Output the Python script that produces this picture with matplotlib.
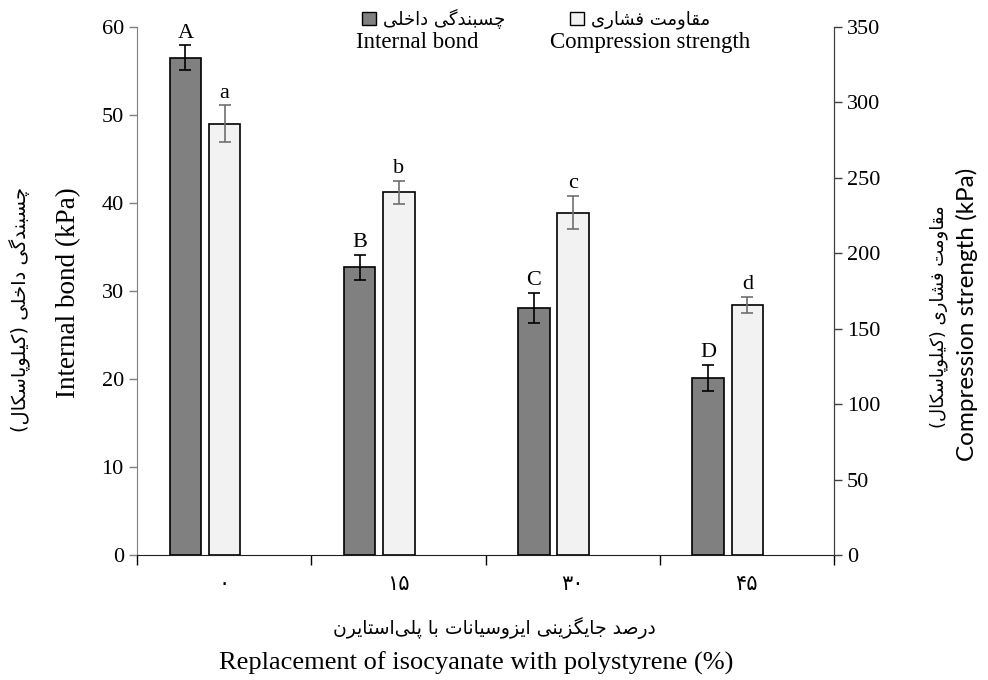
import matplotlib
matplotlib.use("Agg")
import matplotlib.pyplot as plt
from matplotlib.patches import Patch
from matplotlib.ticker import FixedLocator, NullFormatter
import numpy as np

# --- data ---
replacement = ["۰", "۱۵", "۳۰", "۴۵"]
internal_bond = [56.5, 32.7, 28.1, 20.1]          # kPa, left axis
internal_bond_err = [1.4, 1.4, 1.7, 1.5]
compression = [286.0, 240.5, 227.0, 166.0]         # kPa, right axis
compression_err = [12.0, 7.6, 11.0, 5.3]
ib_letters = ["A", "B", "C", "D"]
cs_letters = ["a", "b", "c", "d"]

# --- minimal Persian shaping (matplotlib draws glyphs in logical order, unjoined) ---
FORMS = {
    "ا": (0xFE8D, 0xFE8E), "د": (0xFEA9, 0xFEAA), "ر": (0xFEAD, 0xFEAE),
    "ز": (0xFEAF, 0xFEB0), "و": (0xFEED, 0xFEEE),
    "ب": (0xFE8F, 0xFE90, 0xFE91, 0xFE92), "پ": (0xFB56, 0xFB57, 0xFB58, 0xFB59),
    "ت": (0xFE95, 0xFE96, 0xFE97, 0xFE98), "ج": (0xFE9D, 0xFE9E, 0xFE9F, 0xFEA0),
    "چ": (0xFB7A, 0xFB7B, 0xFB7C, 0xFB7D), "خ": (0xFEA5, 0xFEA6, 0xFEA7, 0xFEA8),
    "س": (0xFEB1, 0xFEB2, 0xFEB3, 0xFEB4), "ش": (0xFEB5, 0xFEB6, 0xFEB7, 0xFEB8),
    "ص": (0xFEB9, 0xFEBA, 0xFEBB, 0xFEBC), "ف": (0xFED1, 0xFED2, 0xFED3, 0xFED4),
    "ق": (0xFED5, 0xFED6, 0xFED7, 0xFED8), "ک": (0xFB8E, 0xFB8F, 0xFB90, 0xFB91),
    "گ": (0xFB92, 0xFB93, 0xFB94, 0xFB95), "ل": (0xFEDD, 0xFEDE, 0xFEDF, 0xFEE0),
    "م": (0xFEE1, 0xFEE2, 0xFEE3, 0xFEE4), "ن": (0xFEE5, 0xFEE6, 0xFEE7, 0xFEE8),
    "ی": (0xFBFC, 0xFBFD, 0xFBFE, 0xFBFF),
}


def fa(text):
    out = []
    for i, c in enumerate(text):
        if c not in FORMS:
            out.append(c)
            continue
        f = FORMS[c]
        prev = text[i - 1] if i > 0 else None
        nxt = text[i + 1] if i + 1 < len(text) else None
        to_prev = prev in FORMS and len(FORMS[prev]) == 4
        to_next = len(f) == 4 and nxt in FORMS
        if to_prev and to_next:
            g = f[3]
        elif to_prev:
            g = f[1]
        elif to_next:
            g = f[2]
        else:
            g = f[0]
        out.append(chr(g))
    s = "".join(out).replace("\u200c", "")[::-1]
    return s.translate(str.maketrans("()", ")("))


SERIF = "Liberation Serif"
FA = "DejaVu Sans"
DARK = "#808080"
LIGHT = "#f2f2f2"

fig = plt.figure(figsize=(9.88, 6.8), dpi=100)
ax = fig.add_axes([0.1387, 0.1838, 0.8441 - 0.1387, 0.9603 - 0.1838])
ax2 = ax.twinx()

x = np.arange(len(replacement)) + 0.5
w = 0.18
x_ib = x - 0.222
x_cs = x + 0.003

ax.bar(x_ib, internal_bond, width=w, color=DARK, edgecolor="black", linewidth=1.2, zorder=2)
ax.errorbar(x_ib, internal_bond, yerr=internal_bond_err, fmt="none", ecolor="black",
            elinewidth=1.2, capsize=4, capthick=1.2, zorder=3)
ax2.bar(x_cs, compression, width=w, color=LIGHT, edgecolor="black", linewidth=1.2, zorder=2)
ax2.errorbar(x_cs, compression, yerr=compression_err, fmt="none", ecolor="#707070",
             elinewidth=1.2, capsize=4, capthick=1.2, zorder=3)

for xi, v, e, t in zip(x_ib, internal_bond, internal_bond_err, ib_letters):
    ax.annotate(t, (xi, v + e), xytext=(0, 2), textcoords="offset points",
                ha="center", va="bottom", fontsize=16, family=SERIF)
for xi, v, e, t in zip(x_cs, compression, compression_err, cs_letters):
    ax2.annotate(t, (xi, v + e), xytext=(0, 2), textcoords="offset points",
                 ha="center", va="bottom", fontsize=16, family=SERIF)

# axes ranges and ticks
ax.set_xlim(0, 4)
ax.set_ylim(0, 60)
ax.set_yticks(np.arange(0, 61, 10))
ax2.set_ylim(0, 350)
ax2.set_yticks(np.arange(0, 351, 50))
ax.set_xticks(x)
ax.set_xticklabels(replacement, family=FA, fontsize=15)
ax.xaxis.set_minor_locator(FixedLocator(np.arange(0, 5)))
ax.xaxis.set_minor_formatter(NullFormatter())
ax.tick_params(axis="x", which="major", length=0, pad=14)
ax.tick_params(axis="x", which="minor", length=7, width=1.0, direction="out")
ax.tick_params(axis="y", length=6, width=1.0, direction="out", labelsize=16)
ax2.tick_params(axis="y", length=6, width=1.0, direction="out", labelsize=16)
for lab in ax.get_yticklabels() + ax2.get_yticklabels():
    lab.set_family(SERIF)

ax.spines["top"].set_visible(False)
ax2.spines["top"].set_visible(False)
ax.spines["left"].set_color("#7f7f7f")
ax2.spines["left"].set_visible(False)
ax2.spines["bottom"].set_visible(False)
ax2.spines["right"].set_color("#404040")
ax.tick_params(axis="y", color="#7f7f7f")
ax2.tick_params(axis="y", color="#404040")
ax.spines["bottom"].set_color("#202020")

# axis titles
fig.text(0.069, 0.570, "Internal bond (kPa)", rotation=90, ha="center", va="center",
         fontsize=19.5, family=SERIF)
fig.text(0.020, 0.545, fa("چسبندگی داخلی (کیلوپاسکال)"), rotation=90, ha="center",
         va="center", fontsize=14, family=FA)
fig.text(0.979, 0.537, "Compression strength (kPa)", rotation=90, ha="center",
         va="center", fontsize=17.5, family="Lato")
fig.text(0.950, 0.535, fa("مقاومت فشاری (کیلوپاسکال)"), rotation=90, ha="center",
         va="center", fontsize=13, family=FA)
fig.text(0.5, 0.077, fa("درصد جایگزینی ایزوسیانات با پلی\u200cاستایرن"), ha="center",
         va="center", fontsize=13.5, family=FA)
fig.text(0.482, 0.025, "Replacement of isocyanate with polystyrene (%)", ha="center",
         va="center", fontsize=19, family=SERIF)

# legend: swatch followed by the Persian name, English name on the row below
handles = [Patch(facecolor=DARK, edgecolor="black", linewidth=1.0),
           Patch(facecolor=LIGHT, edgecolor="black", linewidth=1.0)]
leg = fig.legend(handles, [fa("چسبندگی داخلی"), fa("مقاومت فشاری")], ncol=2,
                 frameon=False, loc="center left", bbox_to_anchor=(362 / 988, 0.972),
                 borderpad=0, borderaxespad=0, prop={"family": FA, "size": 13},
                 handlelength=0.75, handleheight=0.75, handletextpad=0.4,
                 columnspacing=3.6)
fig.text(0.422, 0.937, "Internal bond", ha="center", va="center", fontsize=16.5, family=SERIF)
fig.text(0.658, 0.937, "Compression strength", ha="center", va="center", fontsize=16.5,
         family=SERIF)

fig.savefig("out.png", dpi=100)
